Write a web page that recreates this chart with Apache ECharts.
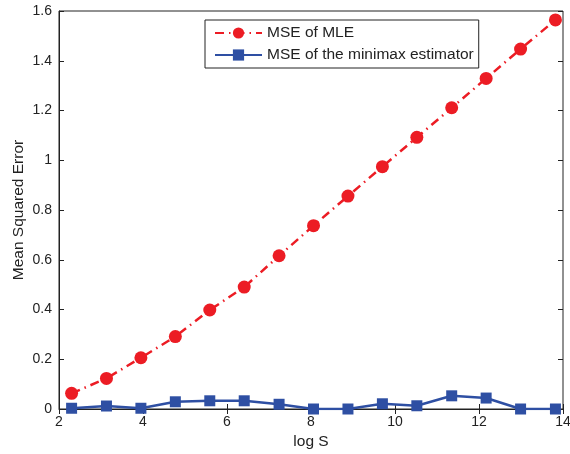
<!DOCTYPE html>
<html>
<head>
<meta charset="utf-8">
<script src="https://cdn.jsdelivr.net/npm/echarts@6/dist/echarts.min.js"></script>
<style>
  html, body { margin: 0; padding: 0; background: #fff; }
  #chart { width: 570px; height: 454px; }
</style>
</head>
<body>
<div id="chart"></div>
<script>
// log S for S = 10 ... 10^6 (15 points)
const logS = [2.30, 3.13, 3.95, 4.77, 5.59, 6.41, 7.24, 8.06, 8.88, 9.70, 10.52, 11.35, 12.17, 12.99, 13.82]
const mseMLE = [0.063, 0.123, 0.206, 0.291, 0.398, 0.490, 0.616, 0.737, 0.856, 0.974, 1.092, 1.211, 1.329, 1.447, 1.564]
const mseMinimax = [0.003, 0.012, 0.003, 0.029, 0.033, 0.033, 0.019, 0.0, 0.0, 0.021, 0.013, 0.053, 0.044, 0.0, 0.0]
const seriesNames = ['MSE of MLE', 'MSE of the minimax estimator']

const red = '#ec1c24'
const blue = '#2e4fa3'
const font = 'Liberation Sans, Arial, Helvetica, sans-serif'

const pairs = (xs, ys) => xs.map((x, i) => [x, ys[i]])

const chart = echarts.init(document.getElementById('chart'))

// top / right axes only carry the inner ticks of the box
const tickOnly = {
  axisLine: { show: false },
  axisLabel: { show: false },
  splitLine: { show: false },
  axisTick: { inside: true, length: 5, lineStyle: { color: '#222' } }
}

chart.setOption({
  animation: false,
  textStyle: { fontFamily: font },
  grid: {
    left: 59, right: 7, top: 11, bottom: 45,
    outerBoundsMode: 'none',
    show: true, borderColor: '#222', borderWidth: 1
  },
  legend: {
    left: 205, top: 20,
    orient: 'vertical',
    data: seriesNames,
    backgroundColor: '#fff',
    borderColor: '#222',
    borderWidth: 1,
    borderRadius: 0,
    padding: [5, 5, 5, 9],
    itemGap: 6,
    itemWidth: 47,
    itemHeight: 14,
    textStyle: { fontSize: 15.5, color: '#222', fontFamily: font }
  },
  xAxis: [{
    type: 'value',
    min: 2, max: 14, interval: 2,
    name: 'log S',
    nameLocation: 'middle',
    nameGap: 25,
    nameMoveOverlap: false,
    nameTextStyle: { fontSize: 15.5, color: '#222' },
    axisLine: { onZero: false, lineStyle: { color: '#222' } },
    axisTick: { inside: true, length: 5, lineStyle: { color: '#222' } },
    axisLabel: { fontSize: 14, color: '#222', margin: 6 },
    splitLine: { show: false }
  }, Object.assign({ type: 'value', position: 'top', min: 2, max: 14, interval: 2 }, tickOnly)],
  yAxis: [{
    type: 'value',
    min: 0, max: 1.6, interval: 0.2,
    name: 'Mean Squared Error',
    nameLocation: 'middle',
    nameGap: 32,
    nameMoveOverlap: false,
    nameTextStyle: { fontSize: 15.5, color: '#222' },
    axisLine: { onZero: false, lineStyle: { color: '#222' } },
    axisTick: { inside: true, length: 5, lineStyle: { color: '#222' } },
    axisLabel: { fontSize: 14, color: '#222', margin: 7 },
    splitLine: { show: false }
  }, Object.assign({ type: 'value', position: 'right', min: 0, max: 1.6, interval: 0.2 }, tickOnly)],
  series: [{
    name: seriesNames[0],
    type: 'line',
    data: pairs(logS, mseMLE),
    symbol: 'circle',
    symbolSize: 13,
    itemStyle: { color: red },
    lineStyle: { color: red, width: 2.5, type: [9, 5, 1.5, 5] },
    z: 3
  }, {
    name: seriesNames[1],
    type: 'line',
    data: pairs(logS, mseMinimax),
    symbol: 'rect',
    symbolSize: 11,
    itemStyle: { color: blue },
    lineStyle: { color: blue, width: 2.5 },
    z: 2
  }]
})
</script>
</body>
</html>
